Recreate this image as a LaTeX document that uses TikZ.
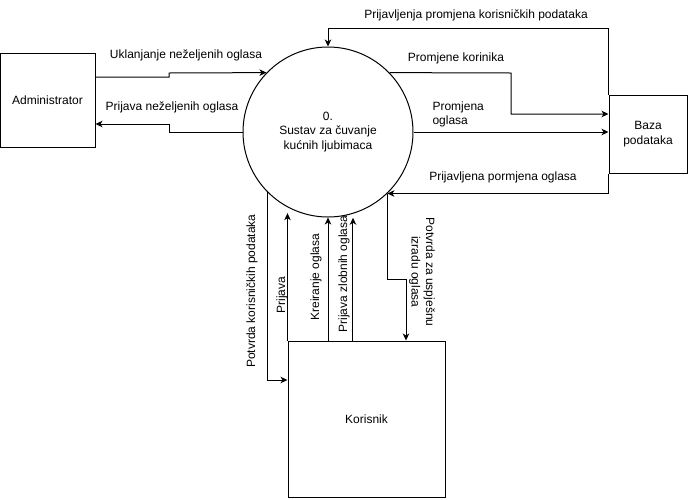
\documentclass[tikz,border=0pt]{standalone}
\usepackage{fontspec}
\setmainfont{Liberation Sans}
\usetikzlibrary{arrows.meta,calc}
\begin{document}
\begin{tikzpicture}[x=1pt,y=-1pt, line width=1pt,
  every node/.style={font=\fontsize{12}{14.6}\selectfont, inner sep=0pt},
  box/.style={draw, rectangle, line width=1pt},
  proc/.style={draw, circle, minimum size=170pt, align=center},
  flow/.style={-{Stealth[length=7pt,width=6.5pt,inset=2pt]}}]
\useasboundingbox (0,0) rectangle (688,499);

\node[box, minimum width=95pt, minimum height=94pt] (adm) at (47.5,100) {Administrator};
\node[proc] (sys) at (328,132) {0.\\Sustav za čuvanje\\kućnih ljubimaca};
\node[box, minimum width=78pt, minimum height=78pt, align=center] (baza) at (648,134) {Baza\\podataka};
\node[box, minimum width=157pt, minimum height=156pt] (kor) at (366.5,419) {Korisnik};

\coordinate (j) at (sys.-46);

% Administrator flows
\draw[flow] (adm.east |- 0,77) -- (169,77) -- (169,73) -- (sys.136);
\draw[flow] (sys.west) -- (169,132) -- (169,124) -- (adm.east |- 0,124);

% Baza flows
\draw[flow] (baza.north west) |- (sys.north |- 0,28) -- (sys.north);
\draw[flow] (sys.44) -- (511,73) -- (511,114) -- (baza.west |- 0,114);
\draw[flow] (sys.east) -- (baza.west |- sys.east);
\draw[flow] (baza.south west) |- (j);

% Korisnik flows
\draw[flow] (j) -- (j |- 0,279) -- (406,279) -- (kor.north -| 406,0);
\draw[flow] (sys.-135) |- (kor.west |- 0,380);
\draw[flow, shorten >=5pt] (kor.north west) -- (kor.north west |- sys.-117);
\draw[flow] (sys.south |- kor.north) -- (sys.south);
\draw[flow, shorten >=4pt] (kor.north -| sys.-73) -- (sys.-73);

% Labels
\node (l1) at (186,55) {Uklanjanje neželjenih oglasa};
\node (l2) at (172,107) {Prijava neželjenih oglasa};
\node (l3) at (476,15) {Prijavljenja promjena korisničkih podataka};
\node (l4) at (456,58) {Promjene korinika};
\node[align=left, anchor=west] (l5) at (432,114.5) {Promjena\\oglasa};
\node (l6) at (503,177) {Prijavljena pormjena oglasa};
\node[rotate=90] (l7) at (252,291) {Potvrda korisničkih podataka};
\node[rotate=90] (l8) at (282,295) {Prijava};
\node[rotate=90] (l9) at (316,277) {Kreiranje oglasa};
\node[rotate=90] (l10) at (344,274) {Prijava zlobnih oglasa};
\node[rotate=-90, align=center] (l11) at (422,272) {Potvrda za uspješnu\\izradu oglasa};
\end{tikzpicture}
\end{document}
